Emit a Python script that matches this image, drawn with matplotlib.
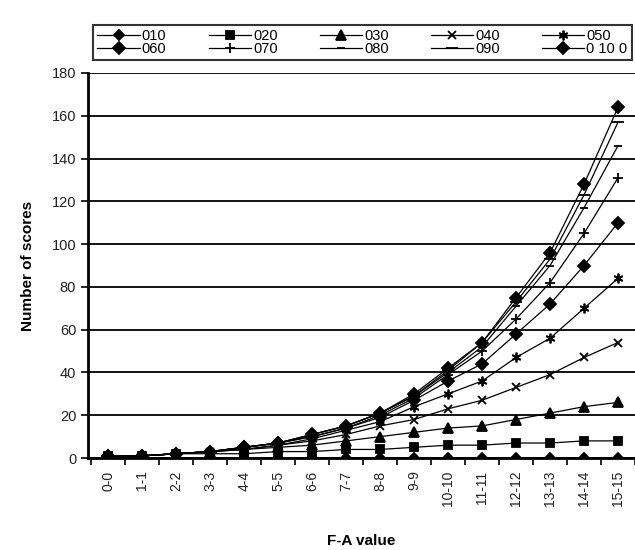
import numpy as np
import matplotlib.pyplot as plt

plt.rcParams['font.family'] = ['Liberation Sans', 'DejaVu Sans']

# categories on the x axis
fa_values = ['0-0', '1-1', '2-2', '3-3', '4-4', '5-5', '6-6', '7-7',
             '8-8', '9-9', '10-10', '11-11', '12-12', '13-13', '14-14', '15-15']

# one list per series
s010 = [1, 0, 0, 0, 0, 0, 0, 0, 0, 0, 0, 0, 0, 0, 0, 0]
s020 = [1, 1, 2, 2, 2, 3, 3, 4, 4, 5, 6, 6, 7, 7, 8, 8]
s030 = [1, 1, 2, 3, 4, 5, 6, 8, 10, 12, 14, 15, 18, 21, 24, 26]
s040 = [1, 1, 2, 3, 4, 6, 8, 11, 15, 18, 23, 27, 33, 39, 47, 54]
s050 = [1, 1, 2, 3, 4, 6, 9, 13, 17, 24, 30, 36, 47, 56, 70, 84]
s060 = [1, 1, 2, 3, 5, 7, 10, 14, 19, 27, 36, 44, 58, 72, 90, 110]
s070 = [1, 1, 2, 3, 5, 7, 10, 14, 20, 28, 39, 50, 65, 82, 105, 131]
s080 = [1, 1, 2, 3, 5, 7, 11, 15, 21, 29, 40, 52, 71, 90, 117, 146]
s090 = [1, 1, 2, 3, 5, 7, 11, 15, 21, 29, 41, 54, 73, 93, 123, 157]
s0100 = [1, 1, 2, 3, 5, 7, 11, 15, 21, 30, 42, 54, 75, 96, 128, 164]

labels = ['010', '020', '030', '040', '050', '060', '070', '080', '090', '0 10 0']
series = [s010, s020, s030, s040, s050, s060, s070, s080, s090, s0100]
markers = ['D', 's', '^', 'x', (6, 2, 0), 'D', '+', '_', '_', 'D']
msizes = [5, 6, 7, 6, 7, 6, 7, 6, 9, 6.5]

fig = plt.figure(figsize=(6.35, 5.5), dpi=100)
ax = fig.add_axes([88 / 635, 92 / 550, 547 / 635, 385 / 550])

x = np.arange(len(fa_values))
handles = []
for vals, lab, m, ms in zip(series, labels, markers, msizes):
    h, = ax.plot(x, vals, color='black', lw=0.9, marker=m, markersize=ms,
                 markeredgewidth=1.3, label=lab)
    handles.append(h)

ax.set_xlim(-0.6, 15.45)
ax.set_ylim(0, 180)
ax.set_yticks(np.arange(0, 181, 20))
ax.set_xticks(x)
ax.set_xticklabels(fa_values, rotation=90, fontsize=10, color='#222222')
ax.set_xticks(np.arange(-0.5, 16, 1), minor=True)
ax.tick_params(axis='x', which='major', length=0, pad=9)
ax.tick_params(axis='x', which='minor', length=5, width=1.2)
ax.tick_params(axis='y', length=5, width=1.2, labelsize=10.5, labelcolor='#222222')
ax.yaxis.grid(True, color='black', lw=1.3)
ax.set_axisbelow(True)

for side in ['top', 'right']:
    ax.spines[side].set_visible(False)
ax.spines['left'].set_linewidth(2)
ax.spines['bottom'].set_linewidth(2)

ax.set_ylabel('Number of scores', fontsize=11, fontweight='bold', labelpad=12)
ax.set_xlabel('F-A value', fontsize=11, fontweight='bold', labelpad=20)

# legend: two rows of five, matplotlib fills column by column
order = [0, 5, 1, 6, 2, 7, 3, 8, 4, 9]
leg = fig.legend([handles[i] for i in order], [labels[i] for i in order],
                 ncol=5, mode='expand', loc='lower left',
                 bbox_to_anchor=(93 / 635, 1 - 60 / 550, 539 / 635, 40 / 550),
                 fontsize=10.5, frameon=True, fancybox=False, handlelength=2.9,
                 handletextpad=0.15, borderaxespad=0, labelspacing=-0.1,
                 borderpad=0.3, columnspacing=0.8)
leg.get_frame().set_edgecolor('black')
leg.get_frame().set_linewidth(1.5)

plt.savefig('out.png', dpi=100)
